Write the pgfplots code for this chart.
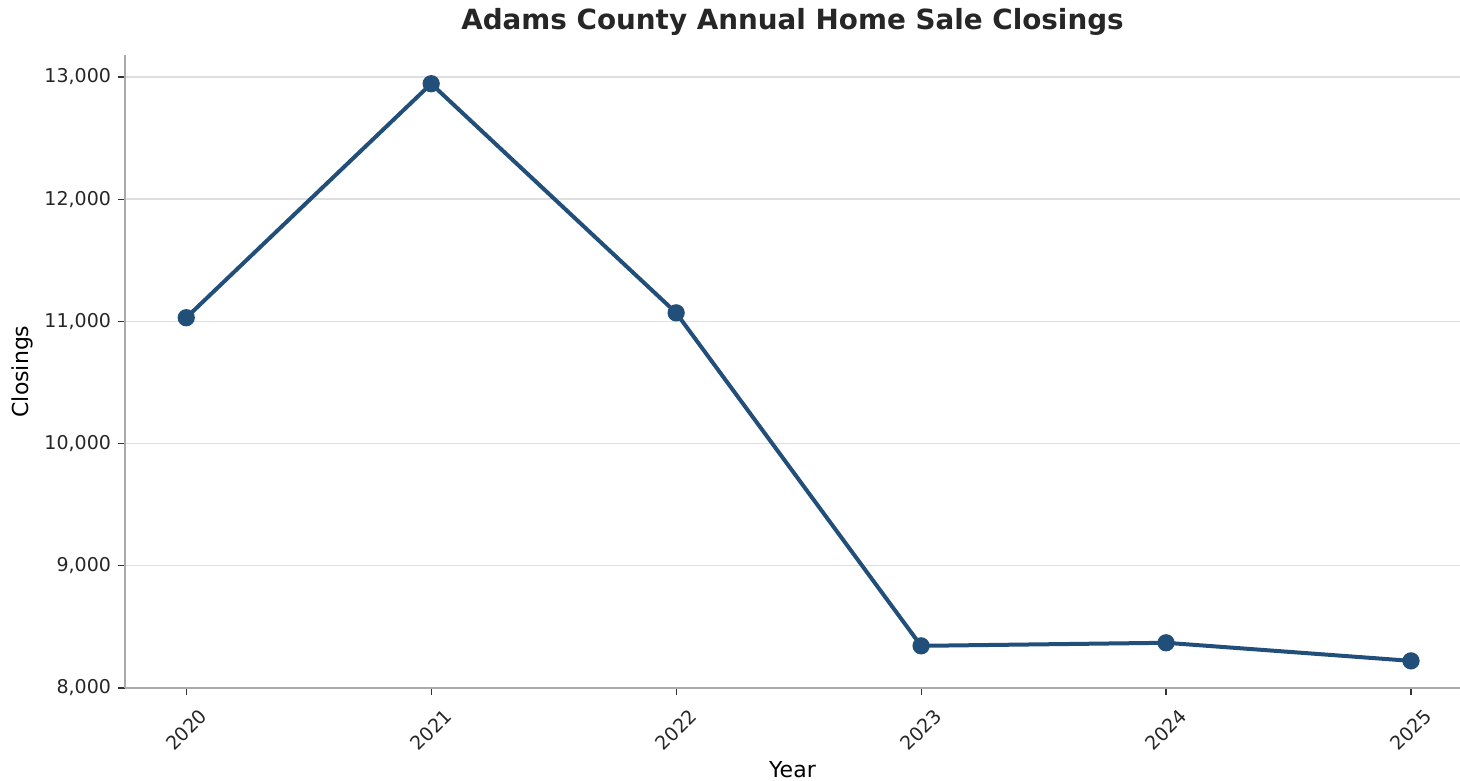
\documentclass[border=0pt]{standalone}
\usepackage{fontspec}
\setmainfont{DejaVu Sans}
\usepackage{pgfplots}
\pgfplotsset{compat=1.18}
\definecolor{lineblue}{RGB}{33,79,122}
\definecolor{gridgray}{RGB}{222,222,222}
\definecolor{spinegray}{RGB}{170,170,170}
\begin{document}
\begin{tikzpicture}
\begin{axis}[
  scale only axis,
  width=667.5bp, height=316.5bp,
  xmin=2019.75, xmax=2025.2,
  ymin=8000, ymax=13180,
  axis lines*=left,
  axis line style={spinegray, line width=0.9bp},
  xtick={2020,2021,2022,2023,2024,2025},
  xticklabels={2020,2021,2022,2023,2024,2025},
  ytick={8000,9000,10000,11000,12000,13000},
  scaled y ticks=false,
  /pgf/number format/assume math mode=true,
  /pgf/number format/1000 sep={,},
  tick align=outside,
  major tick length=3.5bp,
  tick style={black!80, line width=0.6bp},
  ymajorgrids,
  grid style={gridgray, line width=0.7bp},
  xticklabel style={font=\fontsize{9.5bp}{11bp}\selectfont, yshift=-17.5bp, rotate=45, anchor=center, text=black!85},
  yticklabel style={font=\fontsize{9.5bp}{11bp}\selectfont, text=black!85},
  xlabel={Year},
  ylabel={Closings},
  xlabel style={font=\fontsize{11bp}{13bp}\selectfont, at={(axis description cs:0.5,0)}, anchor=center, yshift=-41bp},
  ylabel style={font=\fontsize{11bp}{13bp}\selectfont, at={(axis description cs:0,0.5)}, anchor=center, yshift=51.5bp},
  every axis title shift=0pt,
  title={\bfseries Adams County Annual Home Sale Closings},
  title style={font=\fontsize{13.9bp}{16bp}\selectfont, at={(axis description cs:0.5,1)}, anchor=center, yshift=16.5bp, text=black!85},
  clip=false,
]
\coordinate (O) at (rel axis cs:0,0);
\addplot[lineblue, line width=2bp, mark=*, mark size=3.3bp, mark options={fill=lineblue, draw=lineblue}]
  coordinates {
    (2020,11030) (2021,12945) (2022,11070) (2023,8345) (2024,8370) (2025,8222)
  };
\end{axis}
\pgfresetboundingbox
\useasboundingbox (O) ++(-62.5bp,-46.5bp) rectangle ++(730bp,390.5bp);
\end{tikzpicture}
\end{document}
